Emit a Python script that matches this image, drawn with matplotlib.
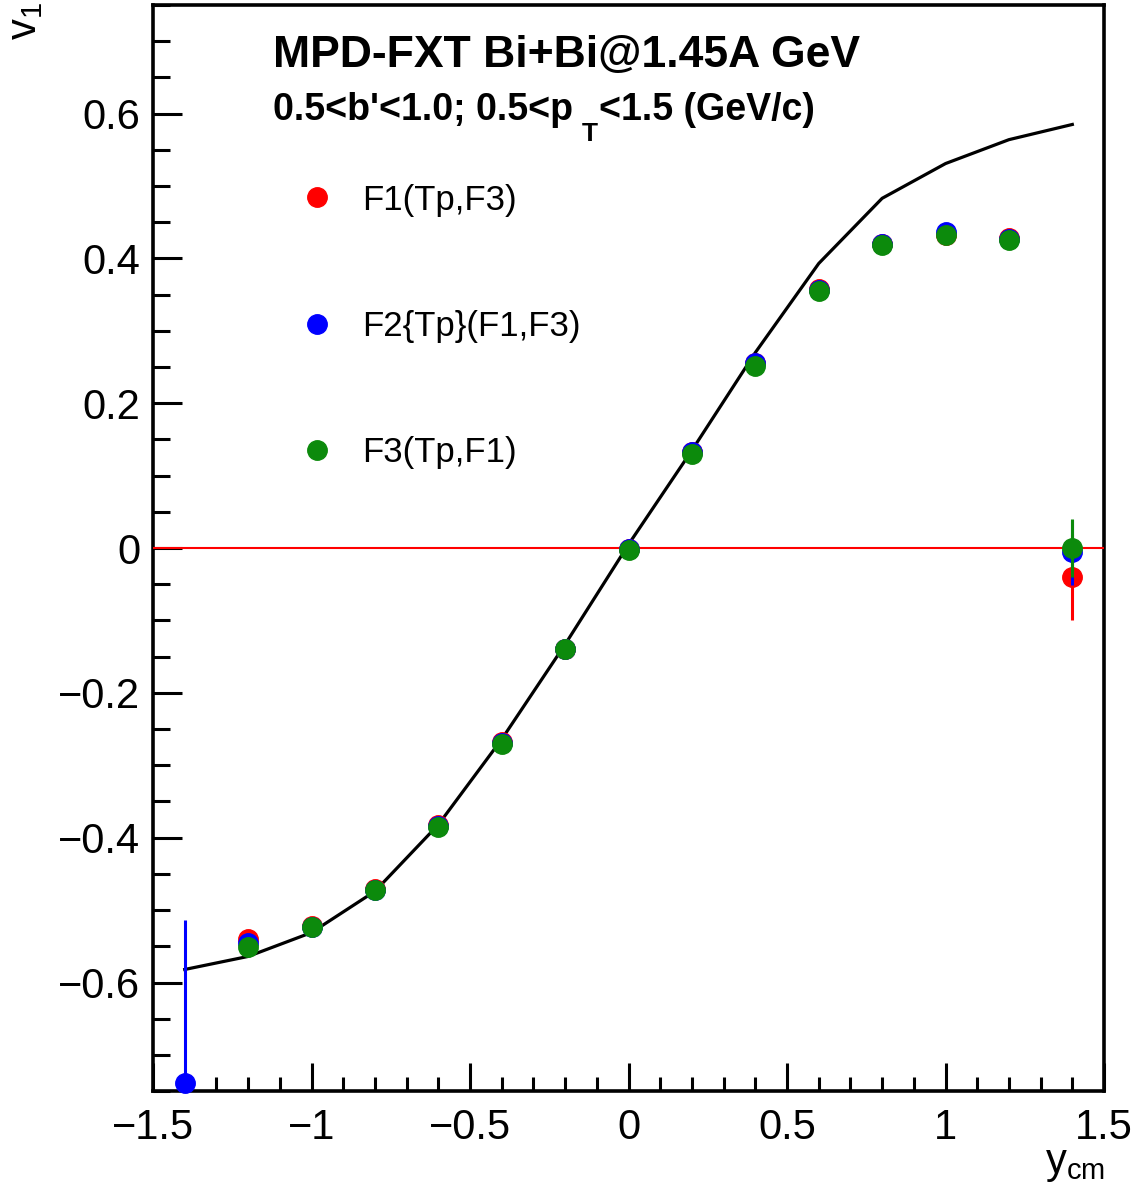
import numpy as np
import matplotlib
matplotlib.use('Agg')
import matplotlib.pyplot as plt
from matplotlib.lines import Line2D
from matplotlib.ticker import MultipleLocator, FuncFormatter

plt.rcParams['font.family'] = ['Liberation Sans', 'DejaVu Sans']
plt.rcParams['mathtext.fontset'] = 'custom'
plt.rcParams['mathtext.rm'] = 'Liberation Sans'
plt.rcParams['mathtext.it'] = 'Liberation Sans:italic'
plt.rcParams['mathtext.bf'] = 'Liberation Sans:bold'

# rapidity bins
yCm = [-1.4, -1.2, -1.0, -0.8, -0.6, -0.4, -0.2, 0.0, 0.2, 0.4, 0.6, 0.8, 1.0, 1.2, 1.4]

# v1 for the three methods (nan = not shown)
v1F1 = [np.nan, -0.540, -0.522, -0.471, -0.383, -0.268, -0.139, -0.001, 0.133, 0.255, 0.358, 0.420, 0.432, 0.428, -0.040]
v1F2 = [-0.739, -0.545, -0.523, -0.472, -0.384, -0.269, -0.140, -0.002, 0.132, 0.255, 0.357, 0.420, 0.437, 0.427, -0.006]
v1F3 = [np.nan, -0.551, -0.524, -0.472, -0.385, -0.270, -0.140, -0.003, 0.130, 0.252, 0.355, 0.419, 0.433, 0.426, 0.000]

errF1 = [0.0, 0.004, 0.003, 0.003, 0.003, 0.003, 0.003, 0.003, 0.003, 0.003, 0.003, 0.003, 0.004, 0.005, 0.060]
errF2 = [0.225, 0.004, 0.003, 0.003, 0.003, 0.003, 0.003, 0.003, 0.003, 0.003, 0.003, 0.003, 0.004, 0.005, 0.045]
errF3 = [0.0, 0.004, 0.003, 0.003, 0.003, 0.003, 0.003, 0.003, 0.003, 0.003, 0.003, 0.003, 0.004, 0.005, 0.040]

# model curve
v1Model = [-0.582, -0.564, -0.531, -0.474, -0.382, -0.264, -0.133, 0.005, 0.135, 0.270, 0.393, 0.483, 0.531, 0.564, 0.585]

labels = ['F1(Tp,F3)', 'F2{Tp}(F1,F3)', 'F3(Tp,F1)']
colors = ['#ff0000', '#0000ff', '#0c8a0c']

fig = plt.figure(figsize=(11.37, 11.86), dpi=100)
ax = fig.add_axes([0.1346, 0.080, 0.8364, 0.9158])

ax.axhline(0, color='#ff0000', lw=1.5, zorder=3)
ax.plot(yCm, v1Model, color='black', lw=2.3, zorder=3.5)

for vals, errs, c in zip([v1F1, v1F2, v1F3], [errF1, errF2, errF3], colors):
    ax.errorbar(yCm, vals, yerr=errs, fmt='none', ecolor=c, elinewidth=2.2, capsize=0, zorder=4)
    ax.plot(yCm, vals, 'o', color=c, ms=14, mec=c, zorder=4, clip_on=False)

ax.set_xlim(-1.5, 1.5)
ax.set_ylim(-0.75, 0.75)

ax.xaxis.set_major_locator(MultipleLocator(0.5))
ax.xaxis.set_minor_locator(MultipleLocator(0.1))
ax.yaxis.set_major_locator(MultipleLocator(0.2))
ax.yaxis.set_minor_locator(MultipleLocator(0.05))
fmt = FuncFormatter(lambda v, p: ('%g' % round(v, 3)).replace('-', '\u2212'))
ax.xaxis.set_major_formatter(fmt)
ax.yaxis.set_major_formatter(fmt)

ax.tick_params(which='both', direction='in', top=False, right=False, width=2.2, labelsize=30)
ax.tick_params(axis='x', which='major', length=20, pad=12)
ax.tick_params(axis='x', which='minor', length=10)
ax.tick_params(axis='y', which='major', length=21, pad=9)
ax.tick_params(axis='y', which='minor', length=12)
for s in ax.spines.values():
    s.set_linewidth(2.6)

fig.text(0.022, 0.998, r'v$_{\mathregular{1}}$', rotation=90, ha='center', va='top', fontsize=30)
fig.text(0.972, 0.002, r'y$_{\mathregular{cm}}$', ha='right', va='bottom', fontsize=30)

ax.text(0.126, 0.9535, 'MPD-FXT Bi+Bi@1.45A GeV', transform=ax.transAxes,
        fontsize=32, fontweight='bold', ha='left', va='center')
t1 = ax.text(0.126, 0.903, "0.5<b'<1.0; 0.5<p", transform=ax.transAxes,
             fontsize=27, fontweight='bold', ha='left', va='center')
t2 = ax.annotate('T', xy=(1, 0), xycoords=t1, xytext=(9, 6), textcoords='offset pixels',
                 fontsize=19, fontweight='bold', ha='left', va='top')
ax.annotate('<1.5 (GeV/c)', xy=(1, 0), xycoords=(t2, t1), xytext=(1, 0), textcoords='offset pixels',
            fontsize=27, fontweight='bold', ha='left', va='bottom')

handles = [Line2D([], [], ls='none', marker='o', ms=14, color=c) for c in colors]
ax.legend(handles, labels, loc='upper left', bbox_to_anchor=(0.1545, 0.8355), frameon=False,
          fontsize=25, labelspacing=2.69, handlelength=1.0, handletextpad=0.8, borderpad=0,
          borderaxespad=0)

fig.savefig('out.png', dpi=100)
